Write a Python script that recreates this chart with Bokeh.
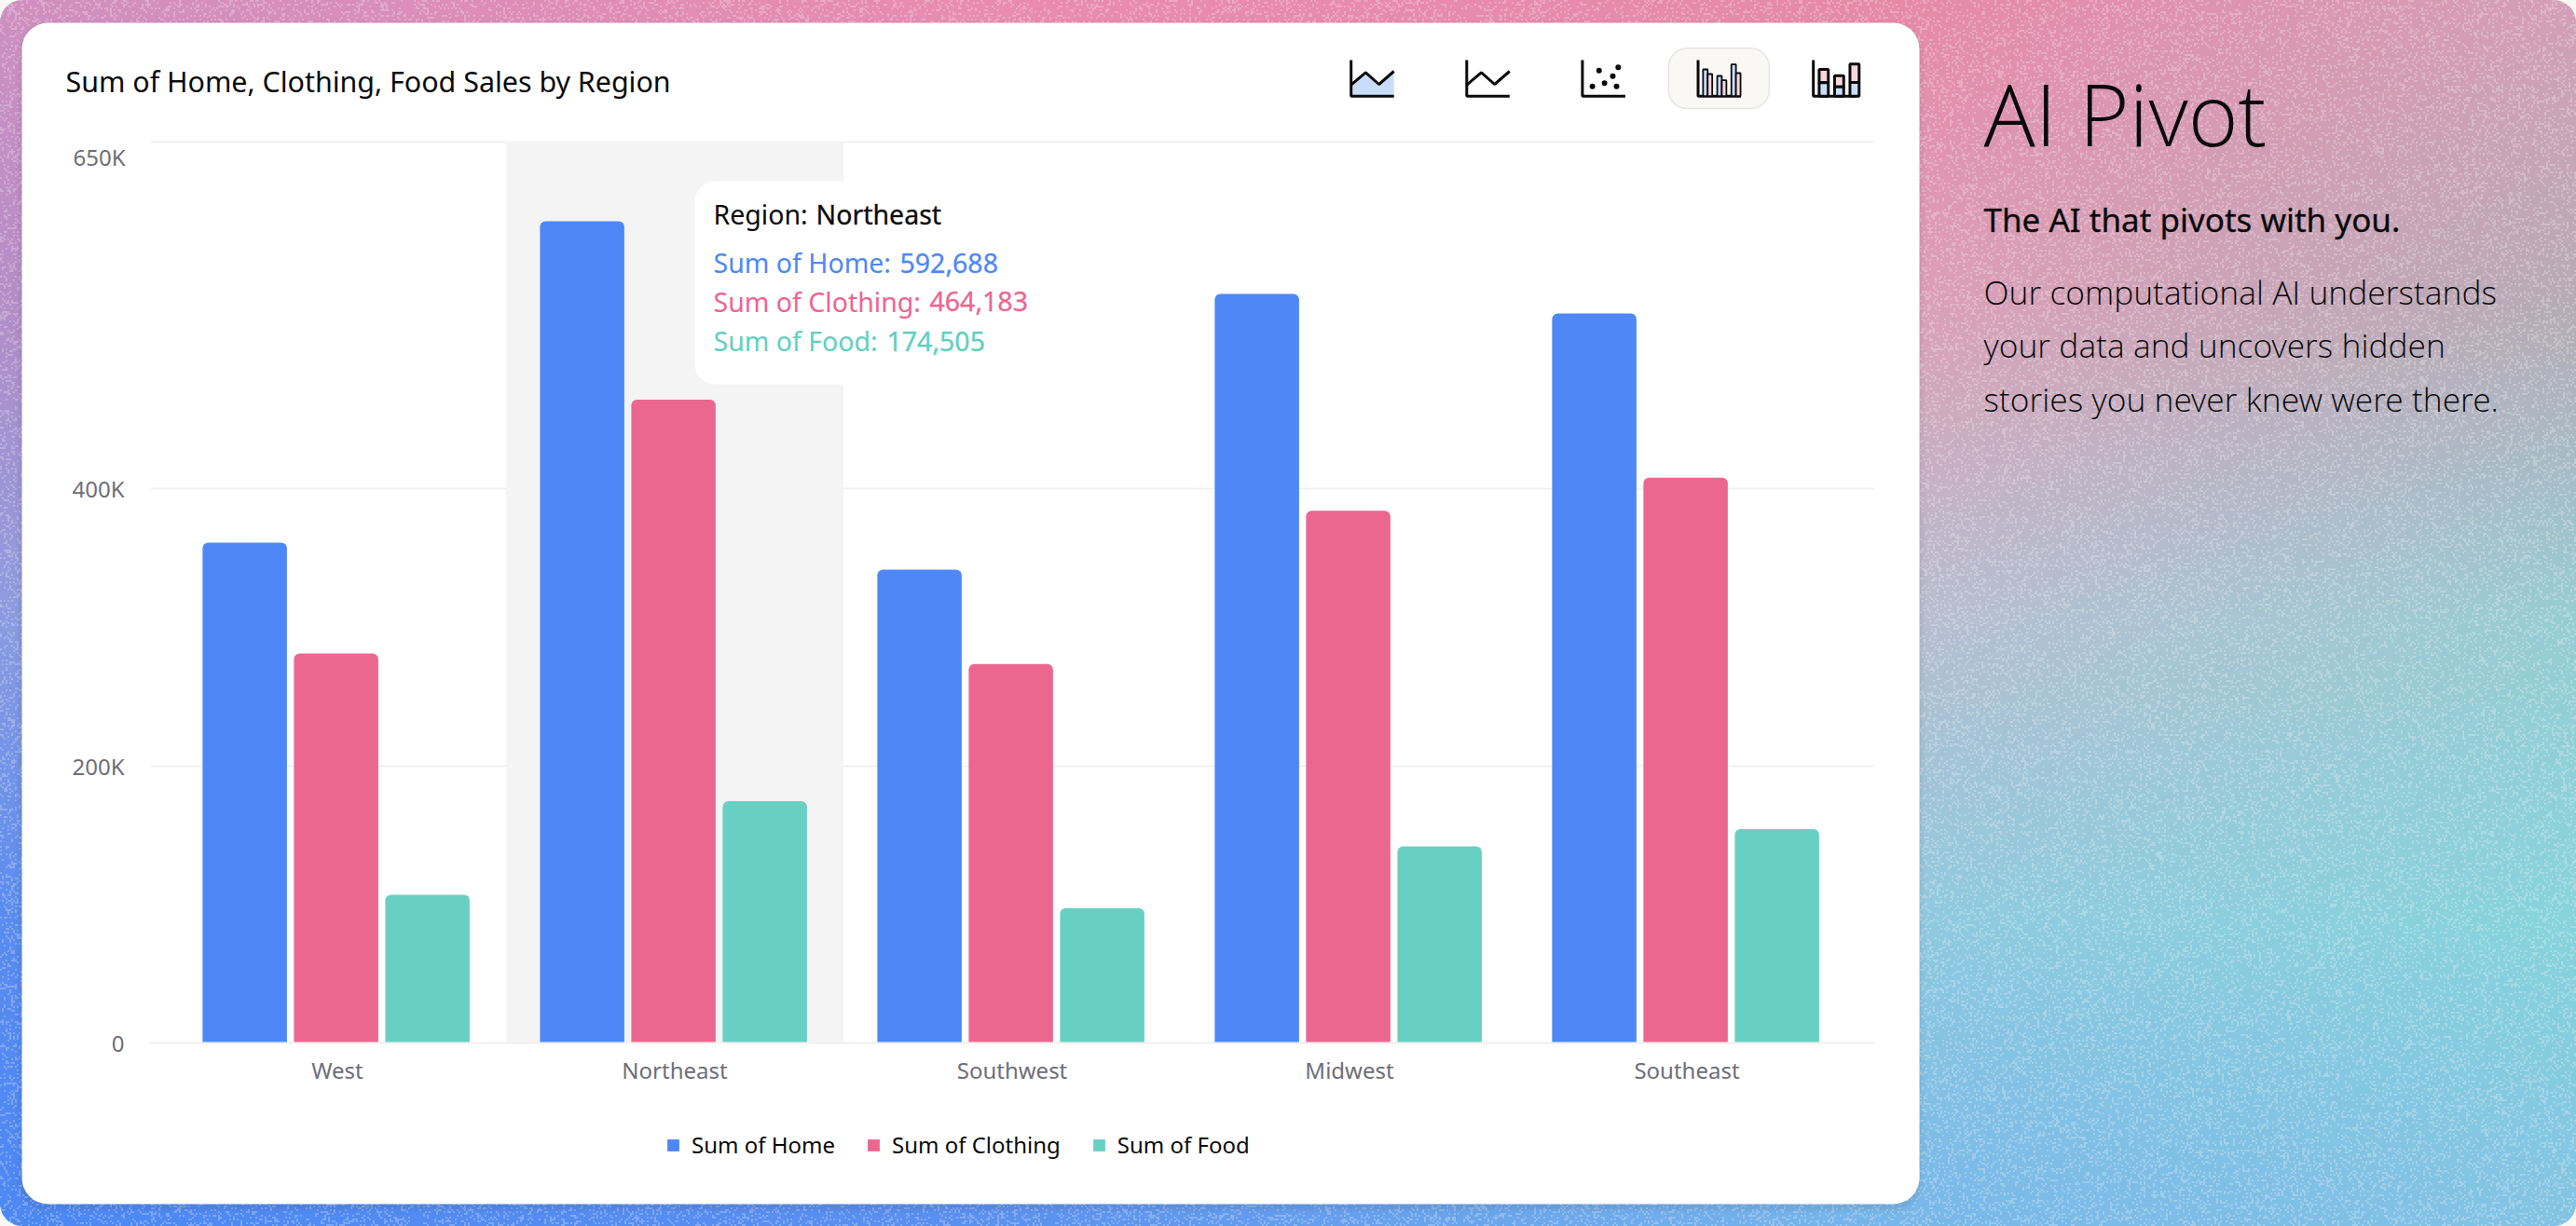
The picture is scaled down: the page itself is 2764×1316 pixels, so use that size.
import base64, struct, zlib
import numpy as np
from bokeh.core.properties import value
from bokeh.embed import file_html
from bokeh.models import (BoxAnnotation, ColumnDataSource, FixedTicker, Label, Legend, LegendItem, LinearScale, Range1d)
from bokeh.plotting import figure
from bokeh.resources import INLINE
from bokeh.transform import dodge

# ---- chart data -------------------------------------------------------
regions = ["West", "Northeast", "Southwest", "Midwest", "Southeast"]
home = [361000, 592688, 341500, 540400, 526300]
clothing = [281000, 464183, 273400, 384000, 407800]
food = [107000, 174505, 97500, 142000, 154400]
y_ticks = [0, 200000, 400000, 650000]
y_tick_labels = ["0", "200K", "400K", ""]
top_tick_label = "650K"
series_names = ["Sum of Home", "Sum of Clothing", "Sum of Food"]
title_text = "Sum of Home, Clothing, Food Sales by Region"
blurb = ["Our computational AI understands", "your data and uncovers hidden", "stories you never knew were there."]

BLUE, PINK, TEAL = "#4d88f6", "#ec6790", "#68d0c2"
W, H = 2764, 1316
FL, FR, FB = 161, 2011, 1119.3     # plot area edges, in page pixels
PX_PER_UNIT = (1120 - 152.5) / 650000
BAND_PX, BAND_X0 = 362, 180.5
FONT = "Noto Sans"
LIGHT = "'Noto Sans Light', 'Open Sans Light', 'Noto Sans'"

# ---- page background: gradient with a grain, written as a PNG ----------
anchor_x = [0, 1030, 2060, 2764]
anchor_y = [0, 330, 660, 990, 1316]
anchors = [
    ["d090c0", "ea8cb0", "e68aa8", "d4a0b8"],
    ["b48ec8", "d890b8", "dca0b8", "b6acb8"],
    ["8c9ce0", "a0a0d8", "b8bed0", "98cdd4"],
    ["5a8cf0", "6a98e8", "90cae0", "88d4dc"],
    ["4c88f4", "5a90f0", "78b8ea", "84c4e4"],
]
A = np.array([[[int(c[i:i + 2], 16) for i in (0, 2, 4)] for c in row] for row in anchors], float)
xs = np.arange(W)
ys = np.arange(H)
by_col = np.stack([np.stack([np.interp(xs, anchor_x, A[r, :, k]) for r in range(5)]) for k in range(3)], -1)
img = np.stack([np.stack([np.interp(ys, anchor_y, by_col[:, i, k]) for i in range(W)], 1) for k in range(3)], -1)
bx, by = np.meshgrid((xs // 2).astype(np.uint64), (ys // 2).astype(np.uint64))
h1 = (bx * np.uint64(73856093)) ^ (by * np.uint64(19349663))
h1 = ((h1 ^ (h1 >> np.uint64(13))) * np.uint64(1274126177)) & np.uint64(0xffffffff)
h1 = h1 ^ (h1 >> np.uint64(16))
grain = (h1 % np.uint64(1000)) > 780
img[grain] = img[grain] * 0.76 + 255 * 0.24

def rrect_sdf(x0, y0, x1, y1, r):
    X, Y = np.meshgrid(xs + 0.5, ys + 0.5)
    qx = np.abs(X - (x0 + x1) / 2) - ((x1 - x0) / 2 - r)
    qy = np.abs(Y - (y0 + y1) / 2) - ((y1 - y0) / 2 - r)
    return np.hypot(np.maximum(qx, 0), np.maximum(qy, 0)) + np.minimum(np.maximum(qx, qy), 0) - r

shadow = 0.10 * np.clip(1 - rrect_sdf(23, 28, 2059, 1296, 28) / 10, 0, 1) ** 2
img = img * (1 - shadow[..., None]) + np.array([40, 40, 60.0]) * shadow[..., None]
outer = np.clip(rrect_sdf(0, 0, W, H, 24) + 0.5, 0, 1)[..., None]
img = img * (1 - outer) + np.array([249, 247, 244.0]) * outer
raw = np.clip(img, 0, 255).astype(np.uint8)
scan = np.concatenate([np.zeros((H, 1), np.uint8), raw.reshape(H, -1)], 1).tobytes()

def chunk(tag, data):
    return struct.pack(">I", len(data)) + tag + data + struct.pack(">I", zlib.crc32(tag + data) & 0xffffffff)

png = b"\x89PNG\r\n\x1a\n" + chunk(b"IHDR", struct.pack(">IIBBBBB", W, H, 8, 2, 0, 0, 0)) + chunk(b"IDAT", zlib.compress(scan, 6)) + chunk(b"IEND", b"")
bg_url = "data:image/png;base64," + base64.b64encode(png).decode()

# ---- figure -------------------------------------------------------------
band_pos = [k + 0.5 for k in range(len(regions))]
to_u = lambda px: (px - BAND_X0) / BAND_PX
p = figure(
    width=W, height=H, output_backend="svg", toolbar_location=None,
    x_range=Range1d(to_u(0), to_u(W)),
    y_range=Range1d((FB - H) / PX_PER_UNIT, FB / PX_PER_UNIT),
    min_border=0, border_fill_alpha=0, background_fill_alpha=0, outline_line_color=None,
    styles={"position": "absolute", "left": "0", "top": "0",
            "background-image": f"url({bg_url})", "background-size": "100% 100%"},
)
# page-pixel coordinate system, for the furniture round the chart
p.extra_x_ranges["px"] = Range1d(0, W)
p.extra_x_scales["px"] = LinearScale()
p.extra_y_ranges["px"] = Range1d(H, 0)
p.extra_y_scales["px"] = LinearScale()
PX = dict(x_range_name="px", y_range_name="px")

p.add_layout(BoxAnnotation(left=23, right=2059, top=24, bottom=1292, level="image", fill_color="white", fill_alpha=1,
                           line_color=None, border_radius=28, **PX))

p.xgrid.visible = False
p.ygrid.grid_line_color = "#f1f1f1"
p.ygrid.grid_line_width = 2
p.ygrid.cross_bounds = (to_u(FL), to_u(FR))
p.yaxis.fixed_location = to_u(FL)
p.yaxis.ticker = FixedTicker(ticks=y_ticks)
p.yaxis.major_label_overrides = dict(zip(y_ticks, y_tick_labels))
p.yaxis.axis_line_color = None
p.yaxis.major_tick_line_color = None
p.yaxis.minor_tick_line_color = None
p.yaxis.major_label_standoff = 22
p.xaxis.fixed_location = 0
p.xaxis.bounds = (to_u(FL), to_u(FR))
p.xaxis.ticker = FixedTicker(ticks=band_pos)
p.xaxis.major_label_overrides = dict(zip(band_pos, regions))
p.xaxis.axis_line_color = "#f1f1f1"
p.xaxis.axis_line_width = 2
p.xaxis.major_tick_line_color = None
p.xaxis.minor_tick_line_color = None
p.xaxis.major_label_standoff = 6
for ax in (p.xaxis, p.yaxis):
    ax.major_label_text_font = FONT
    ax.major_label_text_font_size = "24px"
    ax.major_label_text_color = "#6e6e78"

src = ColumnDataSource(dict(region=regions, pos=band_pos, home=home, clothing=clothing, food=food))

# hovered band
i = regions.index("Northeast")
p.vbar(x=[band_pos[i]], width=1.0, bottom=0, top=[max(y_ticks)], fill_color="#f4f4f4", line_color=None)

renderers = []
for col, off, color in zip(["home", "clothing", "food"], [-0.2745, -0.0038, 0.267], [BLUE, PINK, TEAL]):
    renderers.append(p.vbar(x=dodge("pos", off), top=col, bottom=0, width=0.25, source=src,
                            fill_color=color, line_color=None, border_radius=(6, 6, 0, 0)))

legend = Legend(items=[LegendItem(label=value(n), renderers=[r]) for n, r in zip(series_names, renderers)],
                orientation="horizontal", location=(714, H - 1245), padding=0, margin=0, spacing=33,
                label_standoff=12, glyph_width=16, glyph_height=16, border_line_color=None, background_fill_alpha=0,
                label_text_font=FONT, label_text_font_size="24px", label_text_color="#0a0a0a")
p.add_layout(legend, "center")

# tooltip panel
p.quad(left=[745], right=[1125], top=[194], bottom=[412], fill_color="white", line_color=None, border_radius=22, **PX)

def text(x, y, s, size, color="#0a0a0a", font=FONT, align="left", heavy=False):
    kw = dict(text_outline_color=color + "50") if heavy else {}
    p.add_layout(Label(x=x, y=y - 0.4 * size, text=s, text_font=font, text_font_size=f"{size}px", text_color=color,
                       text_baseline="alphabetic", text_align=align, **kw, **PX))

text(134, 178, top_tick_label, 24, "#6e6e78", align="right")
text(765, 241, "Region: ", 28.5)
text(875, 241, regions[i], 28.5, heavy=True)
for n, vals, color, yb, xv in zip(series_names, [home, clothing, food], ["#4d88f6", "#ef6490", "#5fd0be"], [293, 334.5, 377], [965, 997, 951]):
    text(765, yb, n + ":", 28.5, color)
    text(xv, yb, f"{vals[i]:,}", 28.5, color, heavy=True)

text(70, 99, title_text, 30.4)
text(2128, 158, "AI Pivot", 92, font=LIGHT)
text(2128, 249, "The AI that pivots with you.", 35, heavy=True)
for s, yb in zip(blurb, [326.5, 384, 441.5]):
    text(2128, yb, s, 35.4, font=LIGHT)

# chart-type switcher icons
ix = lambda z: 1380 + z / 2.24
iy = lambda z: 20 + z / 3
INK = "#0a0a0a"
LW = 3
ICON_BLUE, ICON_PINK = "#c9dcfb", "#fbd5dc"
p.quad(left=[ix(918)], right=[ix(1160)], top=[iy(94)], bottom=[iy(288)], fill_color="#f9f8f5", line_color="#e6e6e3",
       line_width=1.5, border_radius=20, **PX)

def axes_l(z0):
    p.line([ix(z0), ix(z0), ix(z0 + 103)], [iy(132), iy(248), iy(248)], line_color=INK, line_width=LW, **PX)

def zig(z0):
    p.line([ix(z0), ix(z0 + 35), ix(z0 + 67), ix(z0 + 103)], [iy(212), iy(172), iy(210), iy(168)],
           line_color=INK, line_width=LW, **PX)

p.patch([ix(155), ix(190), ix(222), ix(258), ix(258), ix(155)], [iy(212), iy(172), iy(210), iy(168), iy(248), iy(248)],
        fill_color=ICON_BLUE, line_color=None, **PX)
axes_l(155); zig(155)
axes_l(433); zig(433)
axes_l(711)
p.scatter([ix(z) for z in (735, 751, 764, 784, 793, 797)], [iy(z) for z in (217, 166, 206, 184, 217, 155)],
          size=6, fill_color=INK, line_color=None, **PX)
axes_l(989)
for x0, top, col in [(1001, 162, ICON_BLUE), (1012, 177, ICON_PINK), (1035, 183, ICON_BLUE), (1046, 197, ICON_PINK),
                     (1069, 146, ICON_BLUE), (1080, 174, ICON_PINK)]:
    p.quad(left=[ix(x0)], right=[ix(x0 + 11)], top=[iy(top)], bottom=[iy(248)], fill_color=col, line_color=INK, line_width=1.8, **PX)
axes_l(1266)
for x0, top, mid in [(1280, 162, 205), (1317, 182, 218), (1354, 145, 204)]:
    p.quad(left=[ix(x0)], right=[ix(x0 + 22)], top=[iy(top)], bottom=[iy(mid)], fill_color=ICON_PINK, line_color=INK, line_width=LW, **PX)
    p.quad(left=[ix(x0)], right=[ix(x0 + 22)], top=[iy(mid)], bottom=[iy(248)], fill_color=ICON_BLUE, line_color=INK, line_width=LW, **PX)

open("out.html", "w").write(file_html(p, INLINE))
